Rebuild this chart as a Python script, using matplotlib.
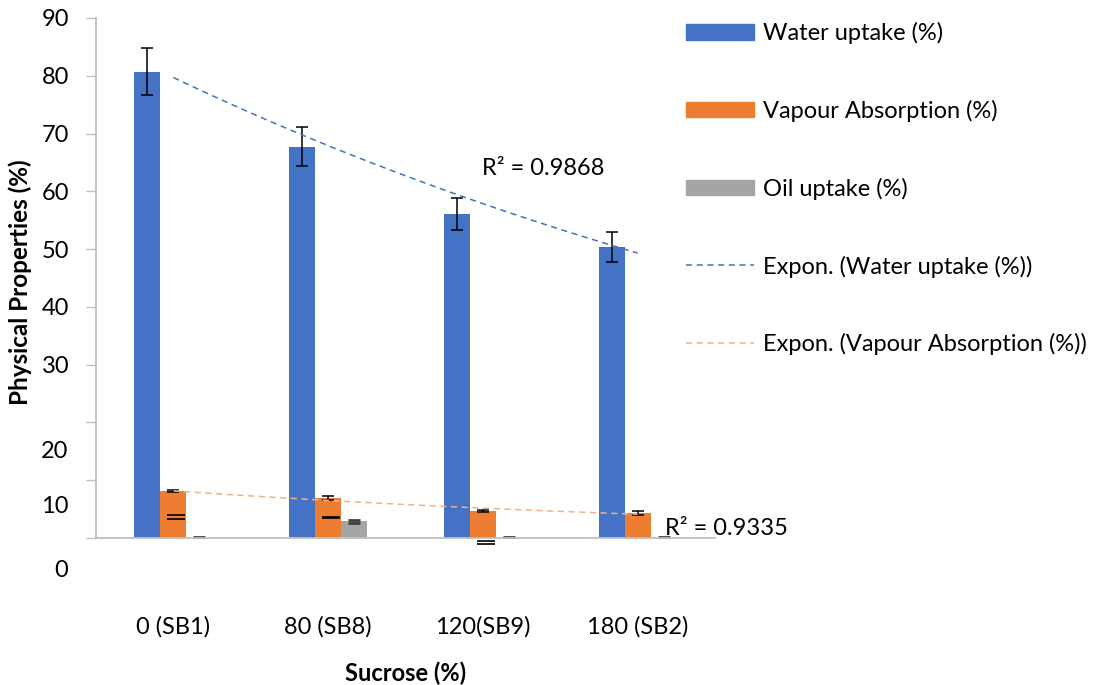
import numpy as np
import matplotlib
matplotlib.use("Agg")
import matplotlib.pyplot as plt
from matplotlib.patches import Patch
from matplotlib.lines import Line2D

plt.rcParams['font.family'] = ['Lato', 'DejaVu Sans']

categories = ["0 (SB1)", "80 (SB8)", "120(SB9)", "180 (SB2)"]
water = [80.7, 67.7, 56.1, 50.4]
water_err = [4.05, 3.35, 2.8, 2.55]
vapour = [8.1, 6.9, 4.7, 4.3]
vapour_err = [0.2, 0.4, 0.2, 0.3]
oil = [0.0, 2.9, 0.0, 0.0]
oil_err = [0.1, 0.3, 0.1, 0.1]
# stray cap lines seen inside the orange bars (category index, value)
stray_caps = [(0, 4.0), (0, 3.3), (1, 3.7), (1, 3.5), (2, -0.5), (2, -1.0)]
r2_water = "R² = 0.9868"
r2_vapour = "R² = 0.9335"

BLUE, ORANGE, GREY = "#4472C4", "#ED7D31", "#A5A5A5"
FS = 17

fig = plt.figure(figsize=(11.02, 6.85), dpi=100)
ax = fig.add_axes([96/1102, 1-538/685, (715-96)/1102, (538-18)/685])

x = np.arange(len(categories))
w = 0.168
ekw = dict(ecolor="black", elinewidth=1.1, capsize=4.5, capthick=1.1)
ax.bar(x - w, water, w, color=BLUE, yerr=water_err, error_kw=ekw, zorder=2)
ax.bar(x, vapour, w, color=ORANGE, yerr=vapour_err, error_kw=ekw, zorder=2)
ax.bar(x + w, oil, w, color=GREY, yerr=oil_err,
       error_kw=dict(ecolor="#404040", elinewidth=1.5, capsize=4.5, capthick=2), zorder=2)

for i, v in stray_caps:
    ax.hlines(v, i + 0.02 - 0.058, i + 0.02 + 0.058, color="black", lw=1.2,
              zorder=4, clip_on=False)

# exponential trendlines fitted over category positions 1..4
xp = x + 1.0
for vals, col in [(water, BLUE), (vapour, "#F4B183")]:
    b, a = np.polyfit(xp, np.log(vals), 1)
    xx = np.linspace(xp[0], xp[-1], 50)
    ax.plot(xx - 1, np.exp(a + b * xx), ls=(0, (4, 3)), lw=1.1, color=col, zorder=3)

ax.text(1.994, 64.0, r2_water, fontsize=FS, va="center", ha="left")
ax.text(3.177, 1.7, r2_vapour, fontsize=FS, va="center", ha="left")

ax.set_xlim(-0.5, 3.5)
ax.set_ylim(0, 90)
ax.set_yticks(np.arange(0, 91, 10))
ax.set_yticklabels(["", "", ""] + [str(v) for v in range(30, 91, 10)])
ax.set_xticks(x)
ax.set_xticklabels(categories)
ax.tick_params(axis="x", length=0, pad=56, labelsize=FS)
ax.tick_params(axis="y", length=7, width=1, color="#BFBFBF", pad=12, labelsize=FS)
# lower labels sit below their ticks in the reference
for val, ypos in [(20, 14.9), (10, 5.4), (0, -5.7)]:
    ax.text(-0.045, ypos, str(val), transform=ax.get_yaxis_transform(),
            ha="right", va="center", fontsize=FS)
for s in ["top", "right"]:
    ax.spines[s].set_visible(False)
for s in ["left", "bottom"]:
    ax.spines[s].set_color("#BFBFBF")
    ax.spines[s].set_linewidth(1.3)

fig.text(405.5/1102, 1-673/685, "Sucrose (%)", ha="center", va="center",
         fontsize=FS, fontweight="bold")
fig.text(20/1102, 1-282/685, "Physical Properties (%)", ha="center", va="center",
         rotation=90, fontsize=FS + 0.5, fontweight="bold")

handles = [
    Patch(color=BLUE), Patch(color=ORANGE), Patch(color=GREY),
    Line2D([], [], color=BLUE, ls=(0, (4, 3)), lw=1.1),
    Line2D([], [], color="#F4B183", ls=(0, (4, 3)), lw=1.1),
]
labels = ["Water uptake (%)", "Vapour Absorption (%)", "Oil uptake (%)",
          "Expon. (Water uptake (%))", "Expon. (Vapour Absorption (%))"]
fig.legend(handles, labels, loc="upper left", bbox_to_anchor=(686/1102, 1-22/685),
           frameon=False, fontsize=FS, handlelength=2.9, handleheight=0.65,
           handletextpad=0.35, labelspacing=2.36, borderpad=0, borderaxespad=0)

fig.savefig("out.png", dpi=100)
